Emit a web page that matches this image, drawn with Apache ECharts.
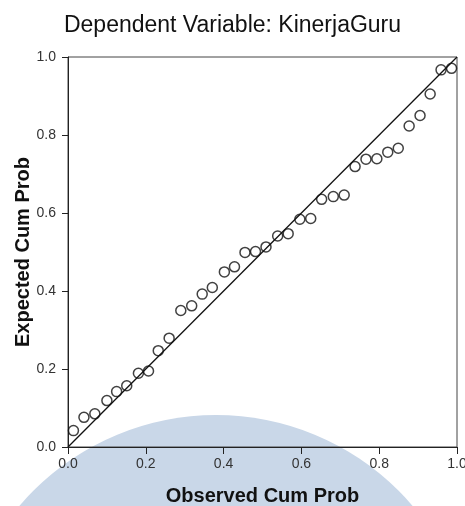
<!DOCTYPE html>
<html>
<head>
<meta charset="utf-8">
<script src="https://cdn.jsdelivr.net/npm/echarts@6/dist/echarts.min.js"></script>
<style>
  html, body { margin: 0; padding: 0; background: #fff; }
  #main { width: 465px; height: 506px; }
</style>
</head>
<body>
<div id="main"></div>
<script>
// P-P plot of regression standardized residual
const observedCum = [0.014, 0.041, 0.069, 0.100, 0.125, 0.151, 0.181, 0.207, 0.232, 0.260,
                     0.290, 0.318, 0.345, 0.371, 0.402, 0.428, 0.455, 0.482, 0.509, 0.539,
                     0.566, 0.596, 0.624, 0.652, 0.682, 0.710, 0.738, 0.766, 0.794, 0.822,
                     0.849, 0.877, 0.905, 0.931, 0.959, 0.986];
const expectedCum = [0.042, 0.076, 0.085, 0.119, 0.142, 0.157, 0.189, 0.195, 0.247, 0.279,
                     0.350, 0.362, 0.392, 0.409, 0.449, 0.462, 0.499, 0.501, 0.513, 0.541,
                     0.547, 0.584, 0.586, 0.635, 0.642, 0.646, 0.719, 0.738, 0.739, 0.756,
                     0.766, 0.823, 0.850, 0.905, 0.967, 0.971];
const refLineX = [0, 1];
const refLineY = [0, 1];

const font = "'Liberation Sans', Arial, sans-serif";

let chart = echarts.init(document.getElementById('main'));

let points = observedCum.map(function (v, i) { return [v, expectedCum[i]]; });
let line = refLineX.map(function (v, i) { return [v, refLineY[i]]; });

let axisLabel = {
    color: '#333',
    fontSize: 14,
    fontFamily: font,
    formatter: function (v) { return v.toFixed(1); }
};

let option = {
    backgroundColor: '#ffffff',
    animation: false,
    title: {
        text: 'Dependent Variable: KinerjaGuru',
        left: 'center',
        top: 14,
        padding: 0,
        textStyle: {
            color: '#111',
            fontSize: 23,
            fontWeight: 'normal',
            fontFamily: font
        }
    },
    // light blue watermark behind the plot
    graphic: [{
        type: 'circle',
        z: -10,
        silent: true,
        shape: { cx: 216, cy: 673, r: 258 },
        style: { fill: '#c9d7e8' }
    }],
    grid: {
        left: 68,
        right: 8,
        top: 57,
        bottom: 59,
        outerBoundsMode: 'none',
        show: true,
        borderColor: '#444',
        borderWidth: 1
    },
    xAxis: {
        type: 'value',
        min: 0,
        max: 1,
        interval: 0.2,
        name: 'Observed Cum Prob',
        nameLocation: 'middle',
        nameGap: 39,
        nameMoveOverlap: false,
        nameTextStyle: { color: '#111', fontSize: 20, fontWeight: 'bold', fontFamily: font },
        axisLine: { show: true, lineStyle: { color: '#222', width: 1 } },
        axisTick: { show: true, length: 7, lineStyle: { color: '#222' } },
        axisLabel: Object.assign({ margin: 10 }, axisLabel),
        splitLine: { show: false }
    },
    yAxis: {
        type: 'value',
        min: 0,
        max: 1,
        interval: 0.2,
        name: 'Expected Cum Prob',
        nameLocation: 'middle',
        nameGap: 35,
        nameMoveOverlap: false,
        nameTextStyle: { color: '#111', fontSize: 20, fontWeight: 'bold', fontFamily: font },
        axisLine: { show: true, lineStyle: { color: '#222', width: 1 } },
        axisTick: { show: true, length: 6, lineStyle: { color: '#222' } },
        axisLabel: Object.assign({ margin: 12 }, axisLabel),
        splitLine: { show: false }
    },
    series: [{
        type: 'line',
        data: line,
        symbol: 'none',
        lineStyle: { color: '#111', width: 1.3 },
        z: 2
    }, {
        type: 'scatter',
        data: points,
        symbol: 'circle',
        symbolSize: 10,
        itemStyle: {
            color: 'rgba(0,0,0,0)',
            borderColor: '#111',
            borderWidth: 1.5
        },
        z: 3
    }]
};

chart.setOption(option);
</script>
</body>
</html>
